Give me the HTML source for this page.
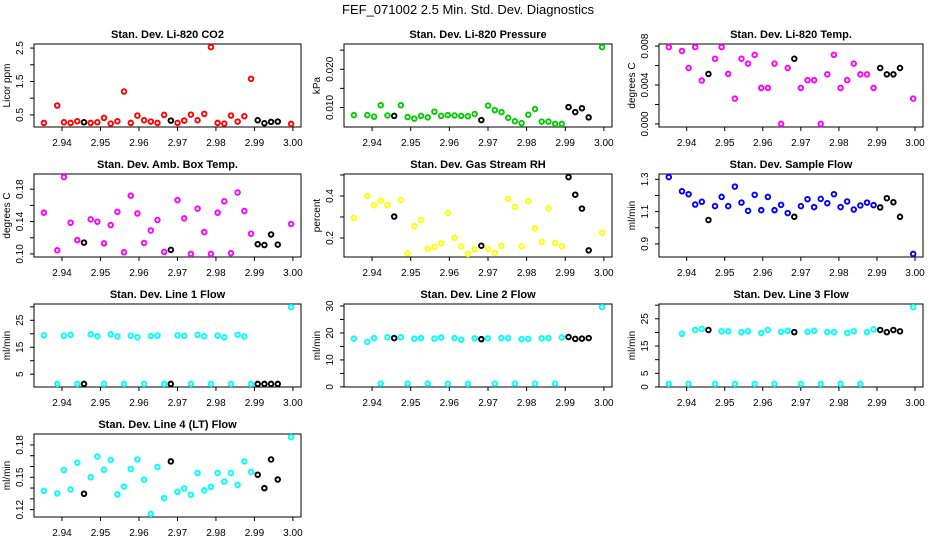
<!DOCTYPE html>
<html><head><meta charset="utf-8"><style>
html,body{margin:0;padding:0;background:#fff;}
svg{display:block;font-family:"Liberation Sans",sans-serif;}
</style></head><body>
<svg id="chart" width="936" height="540" viewBox="0 0 936 540">
<text x="468" y="14" text-anchor="middle" font-size="13">FEF_071002  2.5 Min. Std. Dev. Diagnostics</text>
</svg>
<script>
const times = [2.93530,2.93877,2.94051,2.94224,2.94398,2.94572,2.94745,2.94919,2.95092,2.95266,2.95440,2.95613,2.95787,2.95960,2.96134,2.96308,2.96481,2.96655,2.96828,2.97002,2.97176,2.97349,2.97523,2.97696,2.97870,2.98044,2.98217,2.98391,2.98564,2.98738,2.98912,2.99085,2.99259,2.99432,2.99606,2.99953];
const blackFlags = [0,0,0,0,0,1,0,0,0,0,0,0,0,0,0,0,0,0,1,0,0,0,0,0,0,0,0,0,0,0,0,1,1,1,1,0];
const xTicks = [2.94,2.95,2.96,2.97,2.98,2.99,3.00];
const xTickLabels = ["2.94","2.95","2.96","2.97","2.98","2.99","3.00"];

const co2 = [0.26,0.78,0.28,0.26,0.31,0.28,0.26,0.28,0.41,0.24,0.31,1.20,0.26,0.48,0.34,0.30,0.26,0.50,0.33,0.26,0.33,0.51,0.34,0.53,2.53,0.26,0.24,0.48,0.30,0.46,1.58,0.34,0.25,0.29,0.30,0.23];
const pressure = [0.0080,0.0080,0.0076,0.0106,0.0079,0.0078,0.0106,0.0075,0.0071,0.0078,0.0074,0.0089,0.0078,0.0080,0.0079,0.0078,0.0077,0.0083,0.0067,0.0105,0.0093,0.0088,0.0073,0.0064,0.0059,0.0081,0.0096,0.0063,0.0063,0.0057,0.0057,0.0101,0.0088,0.0098,0.0074,0.0258];
const licorTemp = [0.0079,0.0075,0.00575,0.0079,0.00446,0.00514,0.0067,0.0079,0.00514,0.0026,0.0067,0.0062,0.0071,0.0037,0.0037,0.0062,0.0000,0.00575,0.0067,0.0037,0.0045,0.0045,0.0000,0.0051,0.0071,0.0037,0.0045,0.0062,0.0051,0.0051,0.0037,0.00575,0.0051,0.0051,0.00575,0.0026];
const boxTemp = [0.151,0.1045,0.195,0.1386,0.117,0.114,0.1427,0.1398,0.113,0.1357,0.152,0.102,0.172,0.150,0.1135,0.129,0.142,0.1025,0.105,0.1665,0.144,0.100,0.156,0.127,0.100,0.151,0.165,0.101,0.176,0.153,0.125,0.112,0.111,0.124,0.1115,0.137];
const gasRH = [0.295,0.400,0.356,0.378,0.356,0.302,0.381,0.127,0.256,0.286,0.149,0.157,0.175,0.319,0.200,0.160,0.124,0.146,0.163,0.148,0.129,0.162,0.387,0.348,0.160,0.375,0.246,0.181,0.341,0.176,0.160,0.490,0.406,0.340,0.141,0.225];
const sampleFlow = [1.314,1.226,1.208,1.144,1.161,1.048,1.134,1.191,1.134,1.255,1.156,1.105,1.204,1.109,1.191,1.109,1.142,1.091,1.068,1.134,1.177,1.128,1.179,1.152,1.208,1.128,1.163,1.113,1.138,1.156,1.140,1.126,1.183,1.158,1.068,0.838];
const line1 = [19.4,1.4,19.3,19.6,1.4,1.4,19.8,19.1,1.4,19.8,19.0,1.4,19.3,18.7,1.4,19.2,19.3,1.4,1.4,19.4,19.2,1.4,19.6,19.1,1.4,19.3,18.7,1.4,19.6,19.0,1.4,1.4,1.4,1.4,1.4,29.9];
const line2 = [17.9,16.7,18.1,1.2,18.4,18.1,18.4,1.2,17.9,18.1,1.2,17.9,18.3,1.1,18.1,17.5,1.1,18.0,17.7,18.0,1.2,18.1,18.1,1.2,17.7,17.8,1.2,18.0,18.1,1.2,18.3,18.5,17.8,17.9,18.1,29.6];
const line3 = [1.1,19.5,1.1,20.9,21.3,20.9,1.1,20.4,20.4,1.1,20.1,20.4,1.1,19.8,20.9,1.1,20.2,20.6,20.1,1.1,20.2,20.6,1.1,20.1,20.1,1.1,19.8,20.4,1.1,20.1,21.1,20.9,20.1,20.9,20.4,29.3];
const line4 = [0.1374,0.135,0.1567,0.1387,0.1635,0.1347,0.150,0.1693,0.157,0.166,0.1341,0.1414,0.1577,0.1665,0.1479,0.116,0.1595,0.1307,0.1647,0.1365,0.1396,0.1338,0.154,0.1378,0.1411,0.154,0.146,0.154,0.143,0.1647,0.1549,0.1524,0.1399,0.1665,0.1479,0.1873];

const panelTitles = ["Stan. Dev. Li-820 CO2","Stan. Dev. Li-820 Pressure","Stan. Dev. Li-820 Temp.","Stan. Dev. Amb. Box Temp.","Stan. Dev. Gas Stream RH","Stan. Dev. Sample Flow","Stan. Dev. Line 1 Flow","Stan. Dev. Line 2 Flow","Stan. Dev. Line 3 Flow","Stan. Dev. Line 4 (LT) Flow"];
const yTitles = ["Licor ppm","kPa","degrees C","degrees C","percent","ml/min","ml/min","ml/min","ml/min","ml/min"];
const yTickSets = [[0.5,1,1.5,2,2.5],[0.010,0.015,0.020,0.025],[0,0.002,0.004,0.006,0.008],[0.10,0.12,0.14,0.16,0.18],[0.2,0.3,0.4,0.5],[0.9,1.0,1.1,1.2,1.3],[5,10,15,20,25,30],[0,5,10,15,20,25,30],[0,5,10,15,20,25,30],[0.12,0.13,0.14,0.15,0.16,0.17,0.18]];
const yTickLabelSets = [["0.5","","1.5","","2.5"],["0.010","","0.020",""],["0.000","","0.004","","0.008"],["0.10","","0.14","","0.18"],["0.2","","0.4",""],["0.9","","1.1","","1.3"],["5","","15","","25",""],["0","","10","","20","","30"],["0","5","","15","","25",""],["0.12","","","0.15","","","0.18"]];
const seriesList = [co2,pressure,licorTemp,boxTemp,gasRH,sampleFlow,line1,line2,line3,line4];
const seriesColors = ["#ff0000","#00cd00","#ff00ff","#ff00ff","#ffff00","#0000ff","#00ffff","#00ffff","#00ffff","#00ffff"];
const panelNames = ["co2","pressure","licor-temp","box-temp","gas-rh","sample-flow","line1-flow","line2-flow","line3-flow","line4-flow"];

const NS = "http://www.w3.org/2000/svg";
const svg = document.getElementById("chart");
const colL = [34,344,659], colR = [301,612,923];
const rowOff = [25,155,285,415];
function mk(tag, attrs, parent){ const e=document.createElementNS(NS,tag); for(const k in attrs) e.setAttribute(k,attrs[k]); parent.appendChild(e); return e; }

for (let p=0;p<10;p++){
  const c=p%3, r=Math.floor(p/3);
  const L=colL[c], R=colR[c], T=rowOff[r]+19, B=rowOff[r]+102;
  const g=mk("g",{},svg);
  
  
  const data=seriesList[p];
  const xmin=Math.min(...times), xmax=Math.max(...times), xs=(xmax-xmin)*0.04;
  const ymin=Math.min(...data), ymax=Math.max(...data), ys=(ymax-ymin)*0.04;
  const X=v=>L+(v-(xmin-xs))/((xmax+xs)-(xmin-xs))*(R-L);
  const Y=v=>B-(v-(ymin-ys))/((ymax+ys)-(ymin-ys))*(B-T);
  const t=mk("text",{x:(L+R)/2,y:rowOff[r]+13,"text-anchor":"middle","font-size":"11","font-weight":"bold"},g);
  t.textContent=panelTitles[p];
  
  
  const box=mk("rect",{x:L,y:T,width:R-L,height:B-T,fill:"none",stroke:"#000","stroke-width":"1"},g);
  
  
  xTicks.forEach((v,i)=>{
    const x=X(v);
    const tk=mk("line",{x1:x,x2:x,y1:B,y2:B+4,stroke:"#000"},g);
    
    
    const lb=mk("text",{x:x,y:B+19,"text-anchor":"middle","font-size":"10"},g);
    lb.textContent=xTickLabels[i];
    
    
  });
  yTickSets[p].forEach((v,i)=>{
    const y=Y(v);
    if(y<T-3||y>B+3) return;
    const tk=mk("line",{x1:L-4,x2:L,y1:y,y2:y,stroke:"#000"},g);
    
    
    const s=yTickLabelSets[p][i];
    if(s){
      const lb=mk("text",{x:L-11,y:y,"text-anchor":"middle","font-size":"10",transform:`rotate(-90 ${L-11} ${y})`},g);
      lb.textContent=s;
      
      
    }
  });
  const yt=mk("text",{x:L-24,y:(T+B)/2,"text-anchor":"middle","font-size":"10",transform:`rotate(-90 ${L-24} ${(T+B)/2})`},g);
  yt.textContent=yTitles[p];
  
  
  data.forEach((v,i)=>{
    const pt=mk("circle",{cx:X(times[i]),cy:Y(v),r:2.3,fill:"none",stroke:blackFlags[i]?"#000":seriesColors[p],"stroke-width":"1.9"},g);
    
    
  });
}
</script>
</body></html>
